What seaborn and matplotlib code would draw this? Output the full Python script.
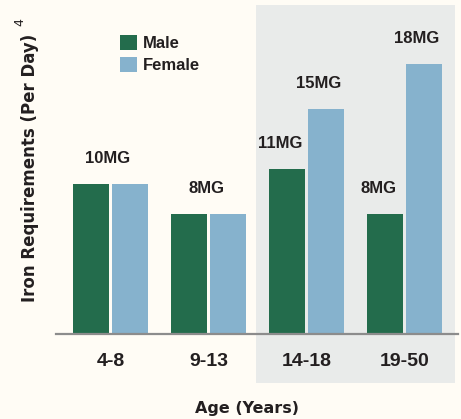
import matplotlib
matplotlib.use('Agg')
import matplotlib.pyplot as plt
import pandas as pd
import seaborn as sns
from matplotlib.patches import Rectangle

# data (mg of iron per day)
ages = ['4-8', '9-13', '14-18', '19-50']
male_mg = [10, 8, 11, 8]
female_mg = [10, 8, 15, 18]
sexes = ['Male', 'Female']
highlight_ages = ['14-18', '19-50']

df = pd.DataFrame({
    'age': ages * 2,
    'sex': ['Male'] * len(ages) + ['Female'] * len(ages),
    'iron': male_mg + female_mg,
})

bg = '#FFFCF5'
panel = '#E9EBEA'
txt = '#231F20'
palette = {'Male': '#236C4C', 'Female': '#86B2CD'}
NARROW = ['Liberation Sans Narrow', 'Liberation Sans', 'DejaVu Sans']

sns.set_style('white')
plt.rcParams['font.family'] = ['Liberation Sans', 'DejaVu Sans']

fig = plt.figure(figsize=(4.61, 4.19), dpi=100, facecolor=bg)
ax = fig.add_axes([56 / 461, 85 / 419, 402 / 461, 329 / 419])
ax.set_facecolor(bg)

bar_width = 0.785
sns.barplot(data=df, x='age', y='iron', hue='sex', order=ages, hue_order=sexes,
            palette=palette, saturation=1, width=bar_width, gap=0.065,
            linewidth=0, errorbar=None, ax=ax, zorder=2)

ax.set_xlim(-0.556, 3.546)
ax.set_ylim(0, 21.93)

# grey panel behind the older age groups, running down past the tick labels
i0 = ages.index(highlight_ages[0])
i1 = ages.index(highlight_ages[-1])
ax.add_patch(Rectangle((i0 - 0.515, -3.27), (i1 - i0) + 1.03, 21.93 + 3.27,
                       facecolor=panel, edgecolor='none', zorder=0, clip_on=False))

for s in ['left', 'right', 'top']:
    ax.spines[s].set_visible(False)
ax.spines['bottom'].set_color('#8C8C8C')
ax.spines['bottom'].set_linewidth(1.6)
ax.spines['bottom'].set_zorder(3)
ax.set_yticks([])
ax.tick_params(axis='x', length=0, pad=13.5, labelsize=14, labelcolor=txt)
for lab in ax.get_xticklabels():
    lab.set_fontweight('bold')

# value labels: one per group when both equal, otherwise one per bar
off = bar_width / 4
for i, age in enumerate(ages):
    m, f = male_mg[i], female_mg[i]
    if m == f:
        ax.text(i - 0.025, m + 1.7, f'{m}MG', ha='center', va='center',
                fontsize=12, fontweight='bold', family=NARROW, color=txt)
    else:
        for dx, v in ((-off, m), (off, f)):
            ax.text(i + dx - 0.07, v + 1.7, f'{v}MG', ha='center', va='center',
                    fontsize=12, fontweight='bold', family=NARROW, color=txt)

ax.set_xlabel('Age (Years)', fontsize=11.5, fontweight='bold', family='DejaVu Sans', color=txt)
ax.xaxis.set_label_coords(0.475, -0.225)
ax.xaxis.label.set_va('center')
ax.set_ylabel('Iron Requirements (Per Day)', fontsize=12, fontweight='bold',
              family='DejaVu Sans', color=txt)
ax.yaxis.set_label_coords(-0.0647, 0.5046)
ax.yaxis.label.set_va('center')
fig.text(20 / 461, 1 - 22 / 419, '4', fontsize=9, rotation=90, ha='center', va='center',
         family='DejaVu Sans', color=txt)

handles, labels = ax.get_legend_handles_labels()
ax.legend(handles, labels, loc='upper left', bbox_to_anchor=(120 / 461, 1 - 35 / 419),
          bbox_transform=fig.transFigure, frameon=False, borderpad=0, borderaxespad=0,
          handlelength=1.02, handleheight=1.02, handletextpad=0.36, labelspacing=0.35,
          prop={'family': NARROW, 'weight': 'bold', 'size': 12}, labelcolor=txt)

fig.savefig('out.png', dpi=100, facecolor=bg)
